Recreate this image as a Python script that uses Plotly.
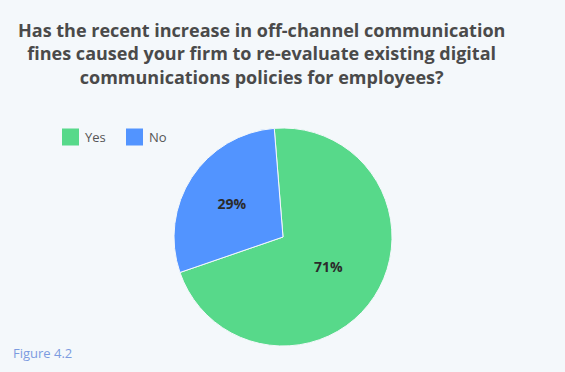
import plotly.graph_objects as go

labels = ["Yes", "No"]
values = [71, 29]
colors = ["#57D98A", "#5294FF"]
title_lines = [
    "Has the recent increase in off-channel communication",
    "fines caused your firm to re-evaluate existing digital",
    "communications policies for employees?",
]
figure_label = "Figure 4.2"

W, H = 565, 372
cx, cy, r = 283, 237, 109
BG = "#F4F8FB"

fig = go.Figure(go.Pie(
    labels=labels,
    values=values,
    marker=dict(colors=colors, line=dict(color=BG, width=1)),
    sort=False,
    direction="clockwise",
    rotation=-4.6,
    texttemplate="%{percent:.0%}",
    textposition="inside",
    insidetextorientation="horizontal",
    textfont=dict(family="Open Sans", size=14, color="#2b2b2b", weight="bold"),
    domain=dict(x=[(cx - r) / W, (cx + r) / W], y=[1 - (cy + r) / H, 1 - (cy - r) / H]),
    hoverinfo="label+percent",
    showlegend=False,
))

# manual legend (large square swatches like the reference)
shapes = []
annotations = []
leg_x0, leg_y, sw, step = 62, 137, 17, 64
for i, (lab, col) in enumerate(zip(labels, colors)):
    x0 = leg_x0 + i * step
    shapes.append(dict(type="rect", xref="paper", yref="paper",
                       x0=x0 / W, x1=(x0 + sw) / W,
                       y0=1 - (leg_y + sw / 2) / H, y1=1 - (leg_y - sw / 2) / H,
                       fillcolor=col, line=dict(width=0)))
    annotations.append(dict(text=lab, x=(x0 + sw + 4) / W, y=1 - leg_y / H,
                            xref="paper", yref="paper", xanchor="left", yanchor="middle",
                            showarrow=False,
                            font=dict(family="Open Sans", size=13, color="#555555")))

annotations += [
    dict(text="<br>".join(title_lines), x=261 / W, y=1 - 16 / H, xref="paper", yref="paper",
         xanchor="center", yanchor="top", showarrow=False, align="center",
         font=dict(family="Open Sans", size=18, color="#4A4A4A", weight="bold")),
    dict(text=figure_label, x=11 / W, y=1 - 353 / H, xref="paper", yref="paper",
         xanchor="left", yanchor="middle", showarrow=False,
         font=dict(family="Open Sans", size=13, color="#7C9BE0")),
]

fig.update_layout(
    width=W, height=H,
    margin=dict(l=0, r=0, t=0, b=0),
    paper_bgcolor=BG,
    plot_bgcolor=BG,
    shapes=shapes,
    annotations=annotations,
)

fig.write_html("out.html", config={"displayModeBar": False},
               post_script="document.body.style.margin='0';")
